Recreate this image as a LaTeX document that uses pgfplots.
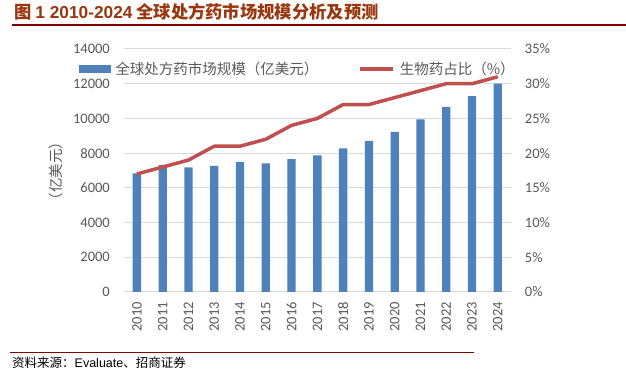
\documentclass[border=0pt]{standalone}
\usepackage{pgfplots}
\pgfplotsset{compat=1.18}
\usepackage{fontspec}
\setmainfont{Carlito}
\newfontfamily\cjk{Noto Sans CJK SC}
\newfontfamily\arial{Liberation Sans}
\definecolor{barblue}{HTML}{4F81BD}
\definecolor{linered}{HTML}{C0504D}
\definecolor{gridgray}{HTML}{D9D9D9}
\definecolor{ticktext}{HTML}{595959}
\definecolor{titlered}{RGB}{155,55,15}
\definecolor{ruleRed}{RGB}{128,0,0}
\pgfplotstableread{
x year size share
0 2010 6840 17
1 2011 7320 18
2 2012 7180 19
3 2013 7260 21
4 2014 7490 21
5 2015 7410 22
6 2016 7660 24
7 2017 7870 25
8 2018 8280 27
9 2019 8700 27
10 2020 9230 28
11 2021 9950 29
12 2022 10660 30
13 2023 11290 30
14 2024 12000 31
}\datatable
\begin{document}
\begin{tikzpicture}[x=1pt,y=1pt]
\path[use as bounding box] (0,0) rectangle (626,385);
\node[anchor=base west, inner sep=0pt, text=titlered, font=\fontsize{17.3}{19}\selectfont\bfseries] at (14,366) {{\cjk 图} {\arial 1 2010-2024} {\cjk 全球处方药市场规模分析及预测}};
\draw[ruleRed, line width=2pt] (12,360) -- (626,360);
\draw[ruleRed, line width=1pt] (10,32) -- (474,32);
\node[anchor=base west, inner sep=0pt, font=\fontsize{12.5}{14}\selectfont] at (12,17) {{\cjk 资料来源：}{\arial Evaluate}{\cjk 、招商证券}};
\node[rotate=90, text=ticktext, font=\fontsize{14.5}{16}\selectfont\cjk, inner sep=0pt] at (56,214) {（亿美元）};
\begin{axis}[
  at={(124pt,93pt)}, anchor=south west,
  scale only axis, width=386.7pt, height=243pt,
  xmin=-0.5, xmax=14.5, ymin=0, ymax=14000,
  ytick={0,2000,...,14000},
  scaled y ticks=false,
  yticklabel={\pgfmathprintnumber[fixed,precision=0,set thousands separator={}]{\tick}},
  xtick={0,...,14},
  xticklabels={2010,2011,2012,2013,2014,2015,2016,2017,2018,2019,2020,2021,2022,2023,2024},
  axis line style={draw=none},
  major tick length=0pt,
  ymajorgrids, grid style={gridgray, line width=1pt},
  /pgf/number format/assume math mode=true,
  tick label style={text=ticktext, font=\fontsize{14.5}{16}\selectfont},
  yticklabel style={inner sep=0pt, anchor=east, xshift=-14pt},
  xticklabel style={rotate=90, anchor=east, inner sep=0pt},
  xticklabel shift=10pt,
  clip=false,
]
\addplot[ybar, bar width=8.3pt, fill=barblue, draw=none, bar shift=0pt] table[x=x, y=size] {\datatable};
\end{axis}
\begin{axis}[
  at={(124pt,93pt)}, anchor=south west,
  scale only axis, width=386.7pt, height=243pt,
  xmin=-0.5, xmax=14.5, ymin=0, ymax=35,
  ytick={0,5,...,35},
  yticklabel={\pgfmathprintnumber{\tick}\%},
  axis y line*=right, axis x line=none,
  axis line style={draw=none},
  major tick length=0pt,
  /pgf/number format/assume math mode=true,
  tick label style={text=ticktext, font=\fontsize{14.5}{16}\selectfont},
  yticklabel style={inner sep=0pt, anchor=west, xshift=14pt},
  clip=false,
  legend columns=2,
  legend style={at={(-0.1164,0.9177)}, anchor=west, draw=none, fill=none,
    inner sep=0pt, outer sep=0pt,
    font=\fontsize{14.5}{16}\selectfont\cjk, text=ticktext,
    nodes={inner sep=0pt},
    /tikz/every odd column/.append style={column sep=5pt},
    /tikz/every even column/.append style={column sep=40pt}},
  legend cell align=left,
]
\addlegendimage{legend image code/.code={\fill[barblue] (0pt,-3.5pt) rectangle (31pt,3.5pt);}}
\addlegendentry{全球处方药市场规模（亿美元）}
\addplot[linered, line width=3.5pt, line join=round, mark=none,
  legend image code/.code={\draw[linered, line width=3.5pt] (0pt,0pt) -- (33pt,0pt);}] table[x=x, y=share] {\datatable};
\addlegendentry{生物药占比（\%）}
\end{axis}
\end{tikzpicture}
\end{document}
